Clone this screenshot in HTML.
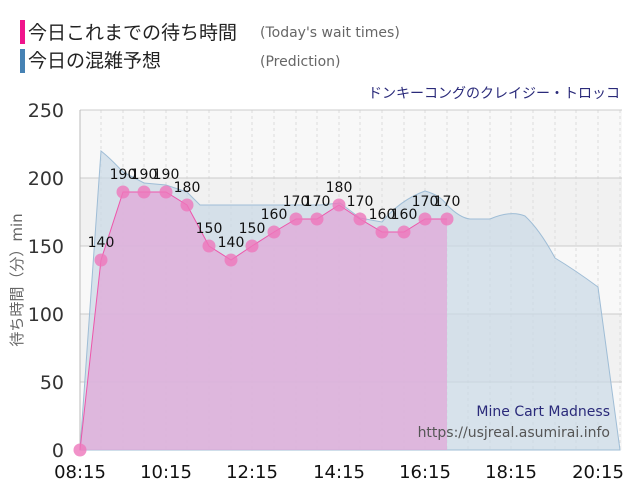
<!DOCTYPE html>
<html><head><meta charset="utf-8"><style>
body{margin:0;background:#fff;width:640px;height:500px;overflow:hidden;font-family:"DejaVu Sans","Noto Sans CJK JP",sans-serif}
</style></head><body>
<svg width="640" height="500" xmlns="http://www.w3.org/2000/svg" font-family="DejaVu Sans, Noto Sans CJK JP, sans-serif">
<rect x="20" y="20" width="5" height="24" fill="#f0148c"/>
<text x="28" y="39" font-size="19" fill="#222" font-family="Noto Sans CJK JP, sans-serif">今日これまでの待ち時間</text>
<text x="260" y="37" font-size="14" fill="#666">(Today's wait times)</text>
<rect x="20" y="49" width="5" height="24" fill="#4682b4"/>
<text x="28" y="67" font-size="19" fill="#222" font-family="Noto Sans CJK JP, sans-serif">今日の混雑予想</text>
<text x="260" y="66" font-size="14" fill="#666">(Prediction)</text>
<text x="620" y="98" font-size="14" fill="#2a2a7a" text-anchor="end" font-family="Noto Sans CJK JP, sans-serif">ドンキーコングのクレイジー・トロッコ</text>
<rect x="80" y="110" width="542" height="340" fill="#f8f8f8"/>
<rect x="80" y="178" width="542" height="68" fill="#f1f1f1"/>
<rect x="80" y="314" width="542" height="68" fill="#f1f1f1"/>
<g stroke="#ddd" stroke-dasharray="3,3">
<line x1="101" y1="110" x2="101" y2="450"/><line x1="123" y1="110" x2="123" y2="450"/><line x1="144" y1="110" x2="144" y2="450"/><line x1="166" y1="110" x2="166" y2="450"/><line x1="187" y1="110" x2="187" y2="450"/><line x1="209" y1="110" x2="209" y2="450"/><line x1="231" y1="110" x2="231" y2="450"/><line x1="252" y1="110" x2="252" y2="450"/><line x1="274" y1="110" x2="274" y2="450"/><line x1="296" y1="110" x2="296" y2="450"/><line x1="317" y1="110" x2="317" y2="450"/><line x1="339" y1="110" x2="339" y2="450"/><line x1="360" y1="110" x2="360" y2="450"/><line x1="382" y1="110" x2="382" y2="450"/><line x1="404" y1="110" x2="404" y2="450"/><line x1="425" y1="110" x2="425" y2="450"/><line x1="447" y1="110" x2="447" y2="450"/><line x1="468" y1="110" x2="468" y2="450"/><line x1="490" y1="110" x2="490" y2="450"/><line x1="511" y1="110" x2="511" y2="450"/><line x1="533" y1="110" x2="533" y2="450"/><line x1="555" y1="110" x2="555" y2="450"/><line x1="576" y1="110" x2="576" y2="450"/><line x1="598" y1="110" x2="598" y2="450"/><line x1="620" y1="110" x2="620" y2="450"/>
</g>
<g stroke="#ccc"><line x1="80" y1="110" x2="622" y2="110"/><line x1="80" y1="178" x2="622" y2="178"/><line x1="80" y1="246" x2="622" y2="246"/><line x1="80" y1="314" x2="622" y2="314"/><line x1="80" y1="382" x2="622" y2="382"/></g>
<line x1="80" y1="110" x2="80" y2="450" stroke="#bbb"/>
<path d="M80,450 L101,151 Q110,158 123,172 L144,183 L166,185 L187,192 L200,205 L280,205 L320,205 L340,203 L360,218 L382,222 Q400,200 425,191 Q440,195 447,205 Q460,218 470,219 L490,219 Q511,210 525,216 Q540,230 555,258 Q575,270 598,287 L620,450 Z" fill="#c9d9e6" fill-opacity="0.7" stroke="#9fbdd6" stroke-width="1"/>
<path d="M80,450 L101,260 L123,192 L144,192 L166,192 L187,205 L209,246 L231,260 L252,246 L274,232 L296,219 L317,219 L339,205 L360,219 L382,232 L404,232 L425,219 L447,219 L447,450 Z" fill="#e0a8d8" fill-opacity="0.75" stroke="none"/>
<polyline points="80,450 101,260 123,192 144,192 166,192 187,205 209,246 231,260 252,246 274,232 296,219 317,219 339,205 360,219 382,232 404,232 425,219 447,219" fill="none" stroke="#ee55aa" stroke-width="1"/>
<g fill="#ee77bb" fill-opacity="0.8">
<circle cx="80" cy="450" r="6.5"/><circle cx="101" cy="260" r="6.5"/><circle cx="123" cy="192" r="6.5"/><circle cx="144" cy="192" r="6.5"/><circle cx="166" cy="192" r="6.5"/><circle cx="187" cy="205" r="6.5"/><circle cx="209" cy="246" r="6.5"/><circle cx="231" cy="260" r="6.5"/><circle cx="252" cy="246" r="6.5"/><circle cx="274" cy="232" r="6.5"/><circle cx="296" cy="219" r="6.5"/><circle cx="317" cy="219" r="6.5"/><circle cx="339" cy="205" r="6.5"/><circle cx="360" cy="219" r="6.5"/><circle cx="382" cy="232" r="6.5"/><circle cx="404" cy="232" r="6.5"/><circle cx="425" cy="219" r="6.5"/><circle cx="447" cy="219" r="6.5"/>
</g>
<g font-size="14" fill="#111" text-anchor="middle">
<text x="101" y="247">140</text><text x="123" y="179">190</text><text x="144" y="179">190</text><text x="166" y="179">190</text><text x="187" y="192">180</text><text x="209" y="233">150</text><text x="231" y="247">140</text><text x="252" y="233">150</text><text x="274" y="219">160</text><text x="296" y="206">170</text><text x="317" y="206">170</text><text x="339" y="192">180</text><text x="360" y="206">170</text><text x="382" y="219">160</text><text x="404" y="219">160</text><text x="425" y="206">170</text><text x="447" y="206">170</text>
</g>
<g font-size="19" fill="#333" text-anchor="end">
<text x="64" y="117">250</text><text x="64" y="185">200</text><text x="64" y="253">150</text><text x="64" y="321">100</text><text x="64" y="389">50</text><text x="64" y="457">0</text>
</g>
<text transform="translate(22,280) rotate(-90)" font-size="15" fill="#666" text-anchor="middle">待ち時間（分）min</text>
<g font-size="18" fill="#111" text-anchor="middle">
<text x="80" y="478">08:15</text><text x="166" y="478">10:15</text><text x="252" y="478">12:15</text><text x="339" y="478">14:15</text><text x="425" y="478">16:15</text><text x="511" y="478">18:15</text><text x="598" y="478">20:15</text>
</g>
<text x="610" y="416" font-size="14" fill="#2a2a7a" text-anchor="end">Mine Cart Madness</text>
<text x="610" y="437" font-size="14" fill="#555" text-anchor="end">https://usjreal.asumirai.info</text>
</svg>
</body></html>
